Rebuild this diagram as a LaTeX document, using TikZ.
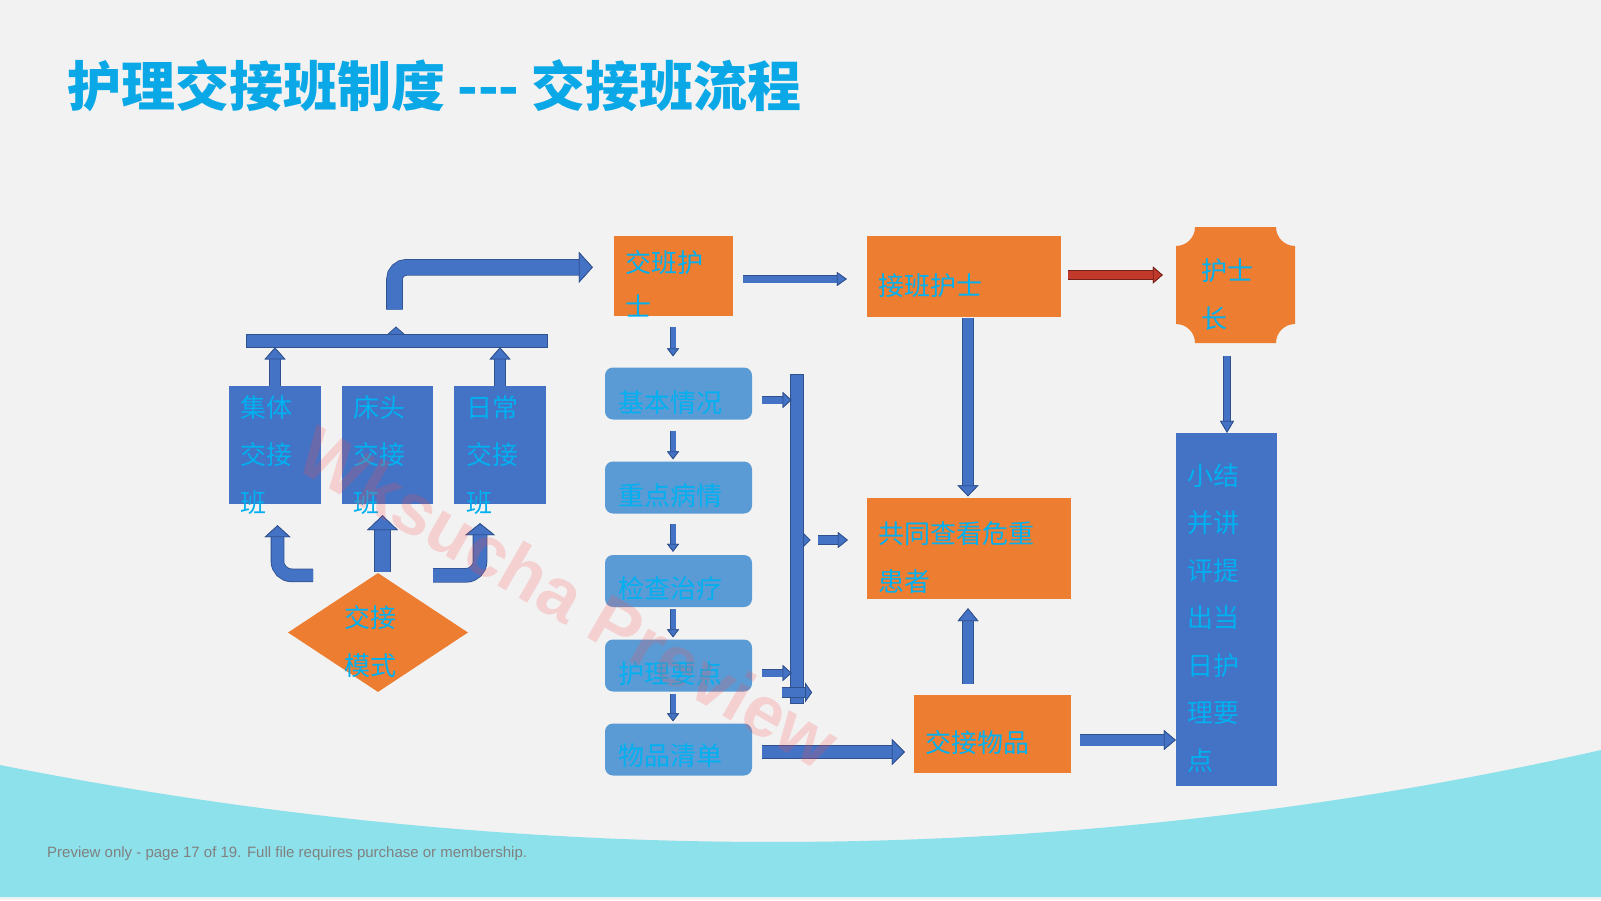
\documentclass[tikz,border=0pt]{standalone}
\usepackage{fontspec}
\setmainfont{Noto Sans CJK SC}
\newfontfamily\latinfont{Liberation Sans}
\usetikzlibrary{arrows.meta,calc,shapes.geometric}
\definecolor{bgC}{HTML}{F2F2F2}
\definecolor{waveC}{HTML}{8DE1EB}
\definecolor{orangeC}{HTML}{ED7D31}
\definecolor{blueC}{HTML}{4472C4}
\definecolor{lblueC}{HTML}{5B9BD5}
\definecolor{lineC}{HTML}{2F528F}
\definecolor{txtC}{HTML}{00B0F0}
\definecolor{titleC}{HTML}{0AA8E6}
\definecolor{redC}{HTML}{C0392B}
\definecolor{footC}{HTML}{808080}
\begin{document}
\begin{tikzpicture}[x=1pt,y=-1pt,
  boxo/.style n args={2}{rectangle, fill=orangeC, inner sep=0pt, minimum width=#1, minimum height=#2},
  boxb/.style n args={2}{rectangle, fill=blueC, inner sep=0pt, minimum width=#1, minimum height=#2},
  boxr/.style={rectangle, rounded corners=8pt, fill=lblueC, inner sep=0pt, minimum width=147pt, minimum height=52pt},
  barshape/.style={rectangle, fill=blueC, draw=lineC, line width=0.8pt, inner sep=0pt},
  txt/.style={inner sep=0pt, text=txtC, anchor=base west, text width=200pt, align=left, font=\fontsize{26pt}{47.5pt}\selectfont},
  barrow/.style n args={3}{draw=blueC, line width=#1, preaction={draw=lineC, line width=#1+1.6pt},
     -{Triangle[length=#3, width=#2, fill=blueC, color=lineC, line width=0.8pt]}},
  redarrow/.style n args={3}{draw=redC, line width=#1, preaction={draw=redC!60!black, line width=#1+1.6pt},
     -{Triangle[length=#3, width=#2, fill=redC, color=redC!60!black, line width=0.8pt]}},
  thinarrow/.style={barrow={5pt}{12pt}{8pt}}
]
\useasboundingbox (0,0) rectangle (1601,900);
\fill[bgC] (0,0) rectangle (1601,900);
\fill[waveC] (0,765) .. controls (530,870) and (1070,870) .. (1601,750) -- (1601,897) -- (0,897) -- cycle;

% title
\node[inner sep=0pt, anchor=base west, text=titleC, font=\fontsize{54pt}{60pt}\selectfont\bfseries] (title) at (67,106) {护理交接班制度 -{}-{}- 交接班流程};

% left group
\node[boxb={92pt}{118pt}] (b1) at (275,445) {};
\node[boxb={91pt}{118pt}] (b2) at (387.5,445) {};
\node[boxb={92pt}{118pt}] (b3) at (500,445) {};
\fill[blueC, draw=lineC, line width=0.8pt] (387,335) -- (396,327) -- (405,335);
\node[barshape, minimum width=301pt, minimum height=13pt] (hbar) at (396.5,340.5) {};
\node[diamond, fill=orangeC, inner sep=0pt, minimum width=180pt, minimum height=119pt] (d) at (378,632.5) {};

% middle column
\node[boxo={119pt}{80pt}] (n1) at (673.5,276) {};
\node[boxr] (r1) at (678.5,393.5) {};
\node[boxr] (r2) at (678.5,487.5) {};
\node[boxr] (r3) at (678.5,581) {};
\node[boxr] (r4) at (678.5,665.5) {};
\node[boxr] (r5) at (678.5,749.5) {};
\fill[blueC, draw=lineC, line width=0.8pt] (802,532) -- (810,540) -- (802,548);
\node[barshape, minimum width=13pt, minimum height=329pt] (vbar) at (796.5,538.5) {};

% right part
\node[boxo={194pt}{81pt}] (n2) at (964,276.5) {};
\node[rectangle, inner sep=0pt, minimum width=119pt, minimum height=116pt] (n3) at (1235.5,285) {};
\fill[orangeC] (1195,227) -- (1276,227) .. controls (1276,237.5) and (1284.5,246) .. (1295,246)
  -- (1295,324) .. controls (1284.5,324) and (1276,332.5) .. (1276,343)
  -- (1195,343) .. controls (1195,332.5) and (1186.5,324) .. (1176,324)
  -- (1176,246) .. controls (1186.5,246) and (1195,237.5) .. (1195,227) -- cycle;
\node[boxb={101pt}{353pt}] (s) at (1226.5,609.5) {};
\node[boxo={204pt}{101pt}] (c) at (969,548.5) {};
\node[boxo={157pt}{78pt}] (g) at (992.5,734) {};

% connectors: left group
\draw[barrow={10pt}{21pt}{12pt}] (b1.north) -- (b1.north |- hbar.south);
\draw[barrow={10pt}{21pt}{12pt}] (b3.north) -- (b3.north |- hbar.south);
\coordinate (hb) at ($(hbar.north)+(-2,-24)$);
\coordinate (n1in) at ($(n1.north west)+(-21,31.5)$);
\draw[barrow={15pt}{31pt}{14pt}, rounded corners=12pt] (hb) |- (n1in);
\coordinate (dl) at ($(d.north)+(-65,2.5)$);
\coordinate (b1in) at ($(b1.south)+(2.5,21)$);
\draw[barrow={12pt}{26pt}{12pt}, rounded corners=14pt] (dl) -| (b1in);
\coordinate (dm) at ($(d.north)+(4.5,-1)$);
\draw[barrow={15pt}{31pt}{15pt}] (dm) -- ($(b2.south)+(-5,11)$);
\coordinate (dr) at ($(d.north)+(55,2.5)$);
\coordinate (b3in) at ($(b3.south)+(-20,19)$);
\draw[barrow={13pt}{30pt}{12pt}, rounded corners=14pt] (dr) -| (b3in);

% connectors: middle column
\draw[thinarrow] ($(n1.south)+(-0.5,11)$) -- ($(r1.north)+(-5.5,-11)$);
\draw[thinarrow] ($(r1.south)+(-5.5,11)$) -- ($(r2.north)+(-5.5,-2)$);
\draw[thinarrow] ($(r2.south)+(-5.5,10)$) -- ($(r3.north)+(-5.5,-3)$);
\draw[thinarrow] ($(r3.south)+(-5.5,2)$) -- ($(r4.north)+(-5.5,-2)$);
\draw[thinarrow] ($(r4.south)+(-5.5,2)$) -- ($(r5.north)+(-5.5,-2)$);
\coordinate (a1) at ($(r1.east)+(10,6.5)$);
\draw[barrow={7pt}{16pt}{9pt}] (a1) -- ($(a1 -| vbar.west)+(2,0)$);
\coordinate (a4) at ($(r4.east)+(10,7.5)$);
\draw[barrow={7pt}{16pt}{9pt}] (a4) -- ($(a4 -| vbar.west)+(2,0)$);
\draw[barrow={9pt}{20pt}{7pt}] ($(vbar.south)+(-14.5,-11)$) -- ($(vbar.south)+(15.5,-11)$);
\draw[barrow={8pt}{16pt}{10pt}] ($(vbar.east)+(15,1.5)$) -- ($(c.west)+(-19,-8.5)$);

% connectors: right part
\draw[barrow={7pt}{14pt}{10pt}] ($(n1.east)+(10,3)$) -- ($(n2.west)+(-20,2.5)$);
\draw[redarrow={8pt}{17pt}{10pt}] ($(n2.east)+(7,-1.5)$) -- ($(n3.west)+(-13,-10)$);
\draw[barrow={6pt}{14pt}{12pt}] ($(n3.south)+(-8.5,13)$) -- ($(s.north)+(0.5,0)$);
\draw[barrow={10pt}{21pt}{11pt}] ($(n2.south)+(4,1)$) -- ($(c.north)+(-1,-1.5)$);
\draw[barrow={10pt}{21pt}{13pt}] ($(g.north)+(-24.5,-11)$) -- ($(c.south)+(-1,9)$);
\draw[barrow={12pt}{26pt}{13pt}] ($(r5.east)+(10,2.5)$) -- ($(g.west)+(-9,18)$);
\coordinate (gs) at ($(g.east)+(9,6)$);
\draw[barrow={11pt}{20pt}{12pt}] (gs) -- (gs -| s.west);

% texts
\node[txt] (tb1) at (240,417) {集体\\交接\\班};
\node[txt] (tb2) at (353,417) {床头\\交接\\班};
\node[txt] (tb3) at (466,417) {日常\\交接\\班};
\node[txt] (td) at (344,627.5) {交接\\模式};
\node[txt, font=\fontsize{26pt}{44pt}\selectfont] (tn1) at (625,272) {交班护\\士};
\node[txt] (tr1) at (618,412) {基本情况};
\node[txt] (tr2) at (618,505) {重点病情};
\node[txt] (tr3) at (618,598) {检查治疗};
\node[txt] (tr4) at (618,683.5) {护理要点};
\node[txt] (tr5) at (618,765.5) {物品清单};
\node[txt] (tn2) at (878,295) {接班护士};
\node[txt, font=\fontsize{26pt}{48pt}\selectfont] (tn3) at (1201,280) {护士\\长};
\node[txt] (ts) at (1187,485) {小结\\并讲\\评提\\出当\\日护\\理要\\点};
\node[txt, font=\fontsize{26pt}{48pt}\selectfont] (tc) at (878,543) {共同查看危重\\患者};
\node[txt] (tg) at (925,752) {交接物品};

% watermark
\node[rotate=-30, inner sep=0pt, text=red!70!white, opacity=0.2, font=\latinfont\bfseries\fontsize{72pt}{80pt}\selectfont] (wm) at (569,597) {Wksucha Preview};

% footer
\node[anchor=west, inner sep=0pt, text=footC, font=\latinfont\fontsize{15pt}{17pt}\selectfont] (foot) at (47,854) {Preview only - page 17 of 19. Full file requires purchase or membership.};
\end{tikzpicture}
\end{document}
